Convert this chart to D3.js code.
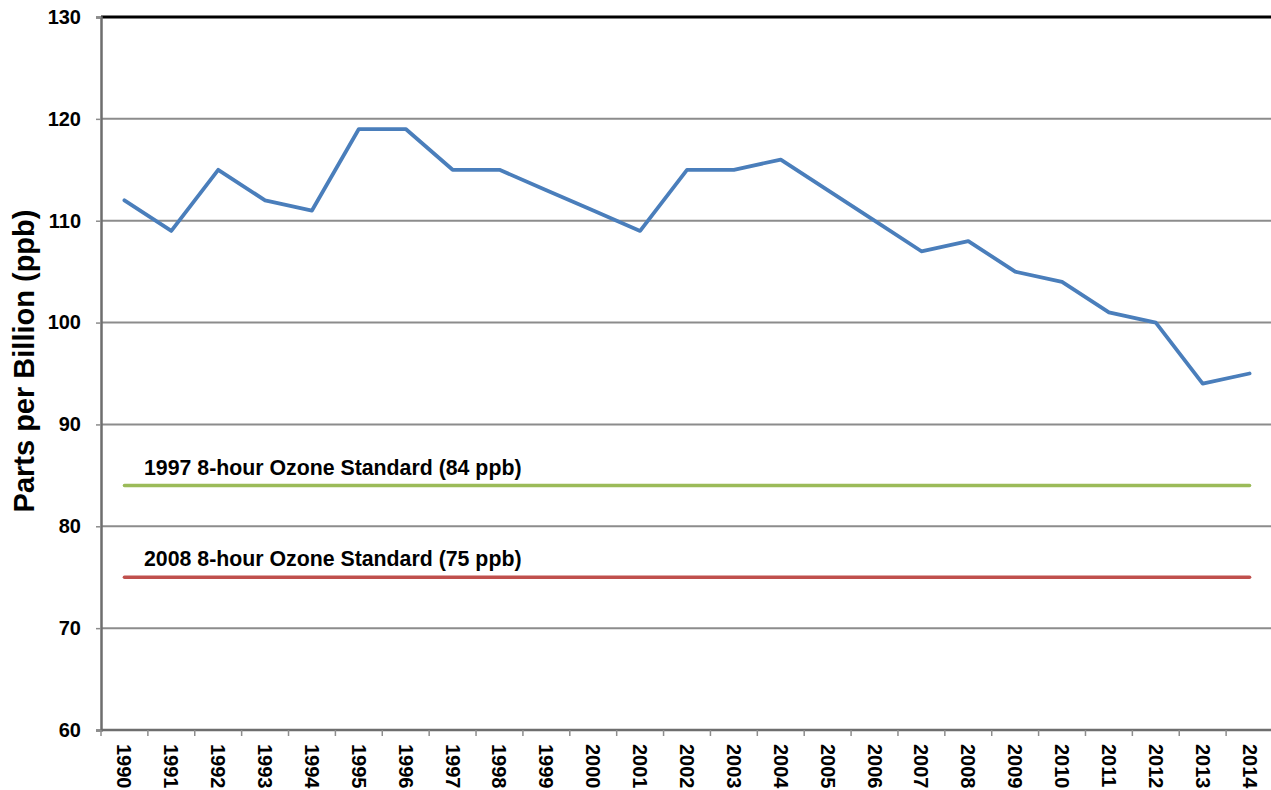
<!DOCTYPE html>
<html lang="en">
<head>
<meta charset="utf-8">
<title>Ozone trend</title>
<script src="https://d3js.org/d3.v7.min.js"></script>
<style>
  body { margin: 0; background: #fff; }
  text { font-family: Arial, "Liberation Sans", sans-serif; font-weight: bold; }
</style>
</head>
<body>
<script>
// data
var years = ["1990","1991","1992","1993","1994","1995","1996","1997","1998","1999","2000","2001","2002",
             "2003","2004","2005","2006","2007","2008","2009","2010","2011","2012","2013","2014"];
var ozone = [112,109,115,112,111,119,119,115,115,113,111,109,115,115,116,113,110,107,108,105,104,101,100,94,95];
var yTicks = [60,70,80,90,100,110,120,130];
var standards = [
  {label: "1997 8-hour Ozone Standard (84 ppb)", value: 84, color: "#9bbb59"},
  {label: "2008 8-hour Ozone Standard (75 ppb)", value: 75, color: "#c0504d"}
];

var W = 1271, H = 790;
var m = {left: 101, top: 17, bottom: 730, right: 1273};

var svg = d3.select("body").append("svg")
  .attr("width", W).attr("height", H);

var x = d3.scaleBand().domain(years).range([m.left, m.right]);
var y = d3.scaleLinear().domain([60, 130]).range([m.bottom, m.top]);

// gridlines
svg.append("g").selectAll("line")
  .data(yTicks.filter(function(d) { return d > 60 && d < 130; }))
  .enter().append("line")
  .attr("x1", m.left).attr("x2", W)
  .attr("y1", function(d) { return y(d); }).attr("y2", function(d) { return y(d); })
  .style("stroke", "#8c8c8c").style("stroke-width", 2);

// top border
svg.append("line")
  .attr("x1", m.left).attr("x2", W).attr("y1", y(130)).attr("y2", y(130))
  .style("stroke", "#000").style("stroke-width", 3);

// y axis
var yAxis = svg.append("g")
  .attr("transform", "translate(" + m.left + ",0)")
  .call(d3.axisLeft(y).tickValues(yTicks).tickSize(5).tickPadding(15));
yAxis.select(".domain").style("stroke", "#6e6e6e").style("stroke-width", 2.5);
yAxis.selectAll(".tick line").style("stroke", "#8c8c8c").style("stroke-width", 1.5);
yAxis.selectAll("text").style("font-size", "20px").style("fill", "#000")
  .style("font-family", "Arial, 'Liberation Sans', sans-serif");

// x axis
var xAxisG = svg.append("g");
xAxisG.append("line")
  .attr("x1", m.left).attr("x2", W).attr("y1", m.bottom).attr("y2", m.bottom)
  .style("stroke", "#6e6e6e").style("stroke-width", 2.5);
xAxisG.selectAll(".tk").data(years).enter().append("line")
  .attr("x1", function(d) { return x(d); }).attr("x2", function(d) { return x(d); })
  .attr("y1", m.bottom).attr("y2", m.bottom + 6)
  .style("stroke", "#8c8c8c").style("stroke-width", 1.5);
xAxisG.selectAll(".lbl").data(years).enter().append("text")
  .attr("transform", function(d) {
    return "translate(" + (x(d) + x.bandwidth() / 2 - 7) + "," + (m.bottom + 14) + ") rotate(90)";
  })
  .style("font-size", "20px")
  .text(function(d) { return d; });

// y title
svg.append("text")
  .attr("transform", "translate(34,361) rotate(-90)")
  .attr("text-anchor", "middle")
  .style("font-size", "29px")
  .text("Parts per Billion (ppb)");

var cx = function(d) { return x(d) + x.bandwidth() / 2; };

// standard lines
standards.forEach(function(s) {
  svg.append("line")
    .attr("x1", cx(years[0])).attr("x2", cx(years[years.length - 1]))
    .attr("y1", y(s.value)).attr("y2", y(s.value))
    .style("stroke", s.color).style("stroke-width", 3.5).style("stroke-linecap", "round");
  svg.append("text")
    .attr("x", 144).attr("y", y(s.value) - 11)
    .style("font-size", "21.3px")
    .text(s.label);
});

// ozone line
var line = d3.line()
  .x(function(d, i) { return cx(years[i]); })
  .y(function(d) { return y(d); });
svg.append("path")
  .datum(ozone)
  .attr("d", line)
  .style("fill", "none").style("stroke", "#4a7ebb").style("stroke-width", 3.8)
  .style("stroke-linejoin", "round").style("stroke-linecap", "round");
</script>
</body>
</html>
